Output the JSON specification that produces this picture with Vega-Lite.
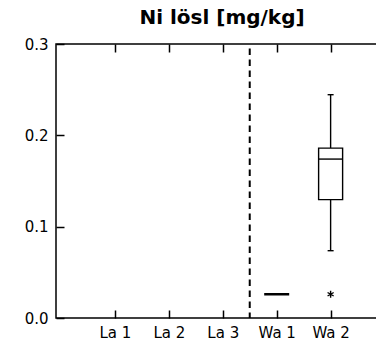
{
  "$schema": "https://vega.github.io/schema/vega-lite/v6.json",
  "autosize": "none",
  "width": 322,
  "height": 274,
  "padding": {"left": 56, "top": 44, "right": 0, "bottom": 26},
  "title": {"text": "Ni lösl [mg/kg]", "fontSize": 20, "font": "DejaVu Sans", "fontWeight": "bold", "color": "black", "offset": 9, "dx": 5},
  "config": {
    "view": {"stroke": "black", "strokeWidth": 1.5},
    "font": "DejaVu Sans",
    "axis": {"domain": false, "ticks": true, "tickSize": 8, "tickWidth": 1.5, "tickColor": "black", "offset": -8, "labelColor": "black", "labelFont": "DejaVu Sans", "labelFontSize": 15, "grid": false, "title": null}
  },
  "datasets": {
    "boxes": [{"group": "Wa 2", "pos": 5, "lo": 0.0737, "q1": 0.1296, "median": 0.174, "q3": 0.186, "hi": 0.2445}],
    "flat": [{"group": "Wa 1", "pos": 4, "value": 0.026}],
    "outliers": [{"group": "Wa 2", "pos": 5, "value": 0.026}],
    "divider": [{"pos": 3.5}]
  },
  "resolve": {"axis": {"x": "independent"}},
  "layer": [
    {
      "data": {"name": "divider"},
      "mark": {"type": "rule", "color": "black", "strokeWidth": 2, "strokeDash": [6.5, 4.5], "strokeDashOffset": 6.5},
      "encoding": {
        "x": {"field": "pos", "type": "quantitative", "scale": {"domain": [0, 5.786], "nice": false, "zero": false},
          "axis": {"orient": "bottom", "values": [1, 2, 3, 4, 5], "labelExpr": "['','La 1','La 2','La 3','Wa 1','Wa 2'][datum.value]", "labelPadding": 7}}
      }
    },
    {
      "data": {"name": "boxes"},
      "mark": {"type": "rule", "color": "black", "strokeWidth": 1.4},
      "encoding": {
        "x": {"field": "pos", "type": "quantitative",
          "axis": {"orient": "top", "values": [1, 2, 3, 4, 5], "labels": false}},
        "y": {"field": "lo", "type": "quantitative", "scale": {"domain": [0, 0.3], "nice": false},
          "axis": {"orient": "left", "values": [0, 0.1, 0.2, 0.3], "format": ".1f", "labelPadding": 8}},
        "y2": {"field": "hi"}
      }
    },
    {
      "data": {"name": "boxes"},
      "mark": {"type": "bar", "size": 24, "fill": "white", "stroke": "black", "strokeWidth": 1.4},
      "encoding": {
        "x": {"field": "pos", "type": "quantitative", "axis": null},
        "y": {"field": "q1", "type": "quantitative"},
        "y2": {"field": "q3"}
      }
    },
    {
      "data": {"name": "boxes"},
      "mark": {"type": "tick", "orient": "horizontal", "size": 24, "thickness": 1.4, "color": "black", "opacity": 1},
      "encoding": {
        "x": {"field": "pos", "type": "quantitative", "axis": null},
        "y": {"field": "median", "type": "quantitative"}
      }
    },
    {
      "data": {"name": "boxes"},
      "mark": {"type": "tick", "orient": "horizontal", "size": 6, "thickness": 1.4, "color": "black", "opacity": 1},
      "encoding": {
        "x": {"field": "pos", "type": "quantitative", "axis": null},
        "y": {"field": "hi", "type": "quantitative"}
      }
    },
    {
      "data": {"name": "boxes"},
      "mark": {"type": "tick", "orient": "horizontal", "size": 6, "thickness": 1.4, "color": "black", "opacity": 1},
      "encoding": {
        "x": {"field": "pos", "type": "quantitative", "axis": null},
        "y": {"field": "lo", "type": "quantitative"}
      }
    },
    {
      "data": {"name": "flat"},
      "mark": {"type": "tick", "orient": "horizontal", "size": 25, "thickness": 2.5, "color": "black", "opacity": 1},
      "encoding": {
        "x": {"field": "pos", "type": "quantitative", "axis": null},
        "y": {"field": "value", "type": "quantitative"}
      }
    },
    {
      "data": {"name": "outliers"},
      "mark": {"type": "point", "shape": "M0,-1L0,1M-0.87,-0.5L0.87,0.5M-0.87,0.5L0.87,-0.5", "size": 49, "filled": false, "stroke": "black", "strokeWidth": 1.4, "opacity": 1},
      "encoding": {
        "x": {"field": "pos", "type": "quantitative", "axis": null},
        "y": {"field": "value", "type": "quantitative"}
      }
    }
  ]
}
